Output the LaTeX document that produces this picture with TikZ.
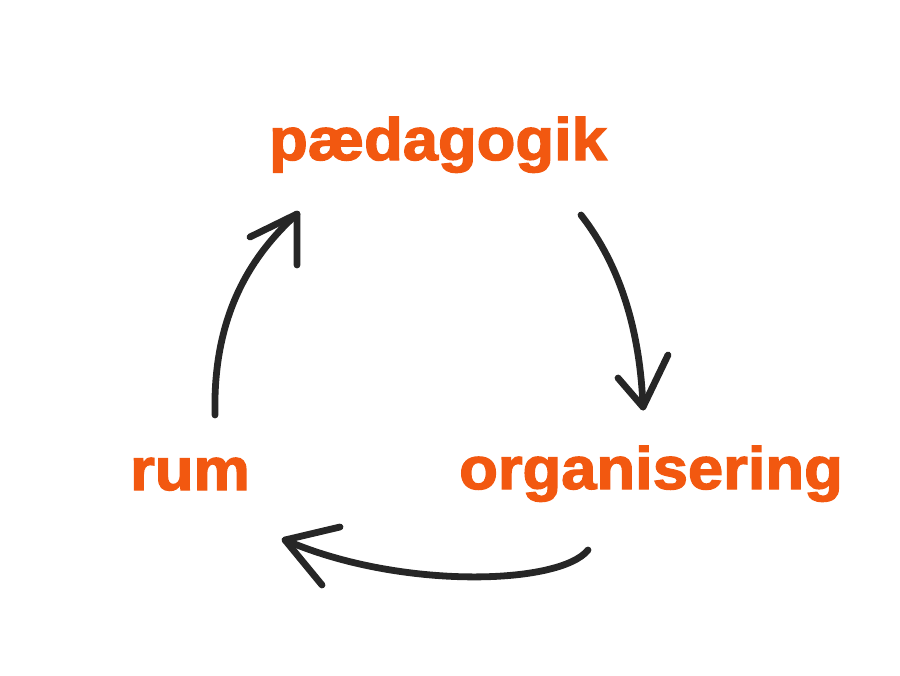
\documentclass[tikz,border=0pt]{standalone}
\usepackage{fontspec}
\setmainfont{Liberation Sans}[BoldFeatures={FakeBold=2.2}]
\definecolor{orng}{RGB}{242,88,16}
\begin{document}
\begin{tikzpicture}[x=0.03cm,y=-0.03cm,
    word/.style={text=orng,font=\bfseries\fontsize{51}{51}\selectfont,inner sep=0pt,anchor=base,xscale=1.06},
    pen/.style={line width=5.8pt,line cap=round,line join=round,black!85}]
        \useasboundingbox (0,0) rectangle (900,675);
        \node[word](paed) at (438,160){pædagogik};
        \node[word](rum) at (190,490){rum};
        \node[word](org) at (651,489){organisering};
        % rum -> paedagogik
        \coordinate (s1) at (215,415); \coordinate (t1) at (297,214);
        \draw[pen](s1)..controls(213,330)and(240,265)..(t1);
        \draw[pen](250,237)--(t1)--(297,265);
        % paedagogik -> organisering
        \coordinate (s2) at (581,215); \coordinate (t2) at (643,407);
        \draw[pen](s2)..controls(620,265)and(640,330)..(t2);
        \draw[pen](618,378)--(t2)--(668,355);
        % organisering -> rum
        \coordinate (s3) at (588,550); \coordinate (t3) at (285,540);
        \draw[pen](s3)..controls(560,585)and(400,590)..(t3);
        \draw[pen](340,527)--(t3)--(322,585);
    \end{tikzpicture}
\end{document}
